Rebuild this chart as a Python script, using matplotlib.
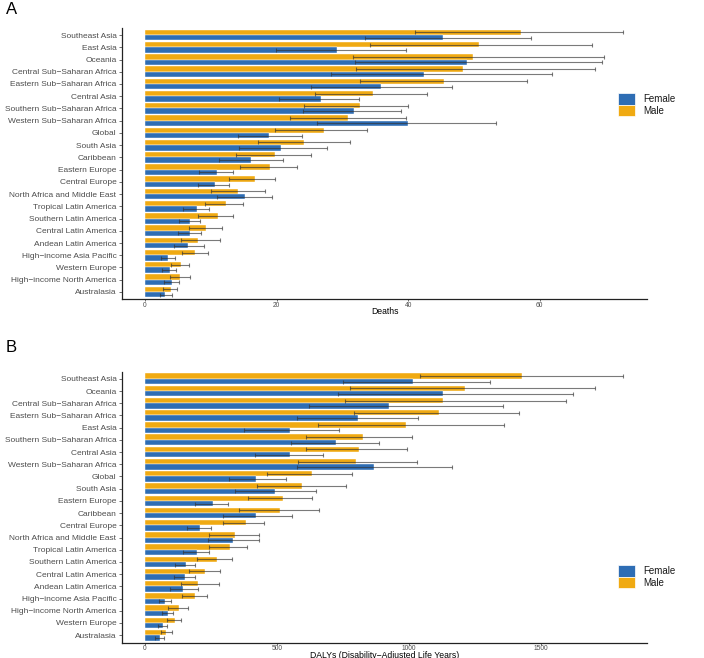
import matplotlib
matplotlib.use("Agg")
import matplotlib.pyplot as plt
import numpy as np
from matplotlib.patches import Rectangle

plt.rcParams['font.family'] = ['Liberation Sans', 'DejaVu Sans']

# ---------------- Panel A: Deaths ----------------
regions_a = ["Southeast Asia", "East Asia", "Oceania", "Central Sub\u2212Saharan Africa",
             "Eastern Sub\u2212Saharan Africa", "Central Asia", "Southern Sub\u2212Saharan Africa",
             "Western Sub\u2212Saharan Africa", "Global", "South Asia", "Caribbean",
             "Eastern Europe", "Central Europe", "North Africa and Middle East",
             "Tropical Latin America", "Southern Latin America", "Central Latin America",
             "Andean Latin America", "High\u2212income Asia Pacific", "Western Europe",
             "High\u2212income North America", "Australasia"]
male_a = [57.2, 50.8, 49.9, 48.3, 45.4, 34.6, 32.6, 30.9, 27.2, 24.2, 19.7, 19.0, 16.7, 14.2,
          12.3, 11.1, 9.2, 8.1, 7.6, 5.4, 5.3, 3.9]
male_a_lo = [41.1, 34.2, 31.6, 32.0, 32.6, 25.9, 24.1, 22.1, 19.7, 17.1, 13.8, 14.4, 12.8, 10.0,
             9.1, 8.1, 6.7, 5.5, 5.6, 4.0, 3.8, 2.8]
male_a_hi = [72.6, 67.9, 69.7, 68.4, 58.1, 42.8, 39.9, 39.7, 33.7, 31.2, 25.2, 23.1, 19.7, 18.2,
             14.9, 13.4, 11.7, 11.4, 9.5, 6.7, 6.9, 4.9]
female_a = [45.3, 29.2, 48.9, 42.4, 35.8, 26.7, 31.8, 39.9, 18.9, 20.6, 16.1, 11.0, 10.6, 15.2,
            7.9, 6.9, 6.8, 6.5, 3.5, 3.8, 4.1, 3.1]
female_a_lo = [33.4, 19.9, 31.9, 28.2, 25.2, 20.4, 24.0, 26.2, 14.2, 14.3, 11.2, 8.2, 8.1, 10.9,
               5.8, 5.1, 5.0, 4.4, 2.4, 2.6, 2.9, 2.2]
female_a_hi = [58.7, 39.7, 69.4, 61.8, 46.6, 32.5, 38.9, 53.4, 23.9, 27.7, 21.0, 13.4, 12.8, 19.3,
               9.7, 8.4, 8.5, 8.9, 4.6, 4.7, 5.2, 4.1]
ticks_a = [0, 20, 40, 60]

# ---------------- Panel B: DALYs ----------------
regions_b = ["Southeast Asia", "Oceania", "Central Sub\u2212Saharan Africa",
             "Eastern Sub\u2212Saharan Africa", "East Asia", "Southern Sub\u2212Saharan Africa",
             "Central Asia", "Western Sub\u2212Saharan Africa", "Global", "South Asia",
             "Eastern Europe", "Caribbean", "Central Europe", "North Africa and Middle East",
             "Tropical Latin America", "Southern Latin America", "Central Latin America",
             "Andean Latin America", "High\u2212income Asia Pacific",
             "High\u2212income North America", "Western Europe", "Australasia"]
male_b = [1426, 1210, 1128, 1113, 988, 825, 810, 799, 632, 594, 521, 510, 381, 340, 322, 273,
          226, 202, 189, 128, 112, 81]
male_b_lo = [1042, 776, 756, 792, 655, 608, 608, 579, 461, 423, 391, 355, 294, 241, 241, 198,
             165, 136, 139, 88, 82, 59]
male_b_hi = [1808, 1704, 1595, 1417, 1358, 1012, 992, 1028, 783, 761, 632, 659, 450, 433, 387,
             330, 284, 279, 236, 162, 136, 101]
female_b = [1016, 1127, 925, 805, 548, 723, 550, 866, 420, 491, 256, 419, 208, 333, 196, 154,
            151, 144, 76, 88, 68, 56]
female_b_lo = [751, 729, 620, 575, 376, 551, 418, 575, 318, 342, 190, 294, 160, 237, 143, 115,
               111, 96, 54, 63, 49, 39]
female_b_hi = [1305, 1619, 1354, 1034, 733, 886, 674, 1163, 535, 648, 313, 558, 250, 433, 241,
               189, 188, 199, 97, 107, 83, 71]
ticks_b = [0, 500, 1000, 1500]

sexes = ["Female", "Male"]
BLUE = "#2E6DB4"
ORANGE = "#F0AA12"

W, H = 704, 658
fig = plt.figure(figsize=(W / 100, H / 100), dpi=100)


def px_axes(x0, y0, x1, y1):
    return fig.add_axes([x0 / W, 1 - y1 / H, (x1 - x0) / W, (y1 - y0) / H])


def panel(ax, regions, male, mlo, mhi, female, flo, fhi, ticks, xlim):
    n = len(regions)
    pos = np.arange(n)[::-1] + 1  # top category at top
    bh = 0.44
    ax.barh(pos + bh / 2, male, height=bh, color=ORANGE, edgecolor='white', linewidth=0.3, zorder=2)
    ax.barh(pos - bh / 2, female, height=bh, color=BLUE, edgecolor='white', linewidth=0.3, zorder=2)
    m = np.array(male); f = np.array(female)
    ax.errorbar(m, pos + bh / 2, xerr=[m - np.array(mlo), np.array(mhi) - m], fmt='none',
                ecolor='#333333', alpha=0.65, elinewidth=0.8, capsize=1.3, capthick=0.8, zorder=3)
    ax.errorbar(f, pos - bh / 2, xerr=[f - np.array(flo), np.array(fhi) - f], fmt='none',
                ecolor='#333333', alpha=0.65, elinewidth=0.8, capsize=1.3, capthick=0.8, zorder=3)
    ax.set_ylim(0.4, n + 0.6)
    ax.set_xlim(*xlim)
    ax.set_yticks(pos)
    ax.set_yticklabels(regions, fontsize=6, color='#4D4D4D')
    ax.set_xticks(ticks)
    ax.set_xticklabels([str(t) for t in ticks], fontsize=4.8, color='#4D4D4D')
    ax.tick_params(axis='y', length=2, width=0.5, pad=2, color='#333333')
    ax.tick_params(axis='x', length=1.5, width=0.5, pad=0.2, color='#333333')
    for s in ['top', 'right']:
        ax.spines[s].set_visible(False)
    ax.spines['left'].set_linewidth(0.9)
    ax.spines['bottom'].set_linewidth(0.9)
    ax.spines['left'].set_color('#222222')
    ax.spines['bottom'].set_color('#222222')


axA = px_axes(122, 27.7, 647, 299.3)
panel(axA, regions_a, male_a, male_a_lo, male_a_hi, female_a, female_a_lo, female_a_hi,
      ticks_a, (-3.5, 76.3))
fig.text(384.5 / W, 1 - 311 / H, "Deaths", fontsize=6.2, ha='center', va='center')

axB = px_axes(122, 371.5, 647, 642.5)
panel(axB, regions_b, male_b, male_b_lo, male_b_hi, female_b, female_b_lo, female_b_hi,
      ticks_b, (-87, 1900))
fig.text(384.5 / W, 1 - 655 / H, "DALYs (Disability\u2212Adjusted Life Years)", fontsize=6.2,
         ha='center', va='center')


def legend(y0):
    cols = [BLUE, ORANGE]
    for i, (lab, c) in enumerate(zip(sexes, cols)):
        top = y0 + i * 11.7
        fig.patches.append(Rectangle((618 / W, 1 - (top + 11.5) / H), 17 / W, 11.5 / H,
                                     transform=fig.transFigure, facecolor=c,
                                     edgecolor='white', linewidth=0.5))
        fig.text(643 / W, 1 - (top + 6) / H, lab, fontsize=7, va='center', ha='left',
                 color='#1a1a1a')


legend(93)
legend(565)

fig.text(6 / W, 1 - 10 / H, "A", fontsize=12, va='center', ha='left')
fig.text(6 / W, 1 - 348 / H, "B", fontsize=12, va='center', ha='left')

fig.savefig("out.png", dpi=100)
